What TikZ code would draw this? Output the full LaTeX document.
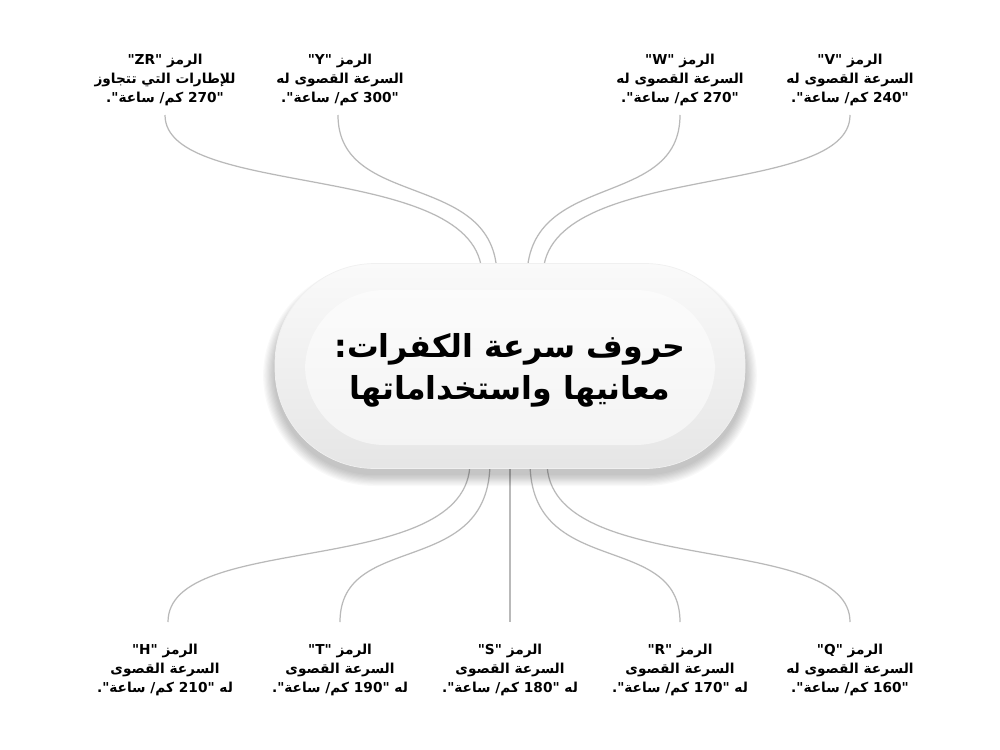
\documentclass[tikz,border=0pt]{standalone}
\usepackage{fontspec}
\TeXXeTstate=1
\newfontfamily\arabicfont[Script=Arabic]{DejaVu Sans}
\newcommand{\AR}[1]{\beginR #1\endR}
\begin{document}
\begin{tikzpicture}[x=0.02cm,y=-0.02cm,
  lbl/.style={font=\arabicfont\bfseries\fontsize{7.8}{10.6}\selectfont, align=center, text=black},
  conn/.style={draw=gray!55, line width=0.7pt}]
\useasboundingbox (0,0) rectangle (1000,750);
\fill[white] (0,0) rectangle (1000,750);
% connectors first (behind pill)
\coordinate (zr1) at (165,115); \coordinate (zr2) at (482,275);
\coordinate (y1) at (338,115); \coordinate (y2) at (497,275);
\coordinate (w1) at (680,115); \coordinate (w2) at (527,275);
\coordinate (v1) at (850,115); \coordinate (v2) at (543,275);
\coordinate (h1) at (168,622); \coordinate (h2) at (470,462);
\coordinate (t1) at (340,622); \coordinate (t2) at (490,462);
\coordinate (s1) at (510,622); \coordinate (s2) at (510,462);
\coordinate (r1) at (680,622); \coordinate (r2) at (530,462);
\coordinate (q1) at (850,622); \coordinate (q2) at (547,462);
\draw[conn] (zr1) .. controls (165,200) and (480,160) .. (zr2);
\draw[conn] (y1) .. controls (338,210) and (495,170) .. (y2);
\draw[conn] (w1) .. controls (680,210) and (530,170) .. (w2);
\draw[conn] (v1) .. controls (850,200) and (545,160) .. (v2);
\draw[conn] (h2) .. controls (470,580) and (168,530) .. (h1);
\draw[conn] (t2) .. controls (490,580) and (340,530) .. (t1);
\draw[conn] (s2) -- (s1);
\draw[conn] (r2) .. controls (530,580) and (680,530) .. (r1);
\draw[conn] (q2) .. controls (547,580) and (850,530) .. (q1);
% shadow
\foreach \i in {1,...,10}{
  \fill[black, opacity=0.025, rounded corners={(100+\i*1.2)*0.02cm}]
    (275-\i*1.2,275-\i*1.0) rectangle (745+\i*1.2,474+\i*1.2);
}
% pill
\node (pill) [minimum width=470*0.02cm, minimum height=205*0.02cm, rounded corners=2cm,
  top color=gray!4, bottom color=gray!20, draw=gray!12] at (510,366) {};
\fill[white, opacity=0.55, rounded corners=1.6cm] (305,290) rectangle (715,445);
\node [font=\arabicfont\bfseries\fontsize{18}{24}\selectfont, align=center] (title) at (510,370)
  {\AR{حروف سرعة الكفرات:}\\\AR{معانيها واستخداماتها}};
% labels top
\node[lbl] (zr) at (165,80) {\AR{الرمز "\beginL ZR\endL"}\\\AR{للإطارات التي تتجاوز}\\\AR{"270 كم/ ساعة".}};
\node[lbl] (y) at (340,80) {\AR{الرمز "\beginL Y\endL"}\\\AR{السرعة القصوى له}\\\AR{"300 كم/ ساعة".}};
\node[lbl] (w) at (680,80) {\AR{الرمز "\beginL W\endL"}\\\AR{السرعة القصوى له}\\\AR{"270 كم/ ساعة".}};
\node[lbl] (v) at (850,80) {\AR{الرمز "\beginL V\endL"}\\\AR{السرعة القصوى له}\\\AR{"240 كم/ ساعة".}};
% labels bottom
\node[lbl] (h) at (165,670) {\AR{الرمز "\beginL H\endL"}\\\AR{السرعة القصوى}\\\AR{له "210 كم/ ساعة".}};
\node[lbl] (t) at (340,670) {\AR{الرمز "\beginL T\endL"}\\\AR{السرعة القصوى}\\\AR{له "190 كم/ ساعة".}};
\node[lbl] (s) at (510,670) {\AR{الرمز "\beginL S\endL"}\\\AR{السرعة القصوى}\\\AR{له "180 كم/ ساعة".}};
\node[lbl] (r) at (680,670) {\AR{الرمز "\beginL R\endL"}\\\AR{السرعة القصوى}\\\AR{له "170 كم/ ساعة".}};
\node[lbl] (q) at (850,670) {\AR{الرمز "\beginL Q\endL"}\\\AR{السرعة القصوى له}\\\AR{"160 كم/ ساعة".}};
\end{tikzpicture}
\end{document}
